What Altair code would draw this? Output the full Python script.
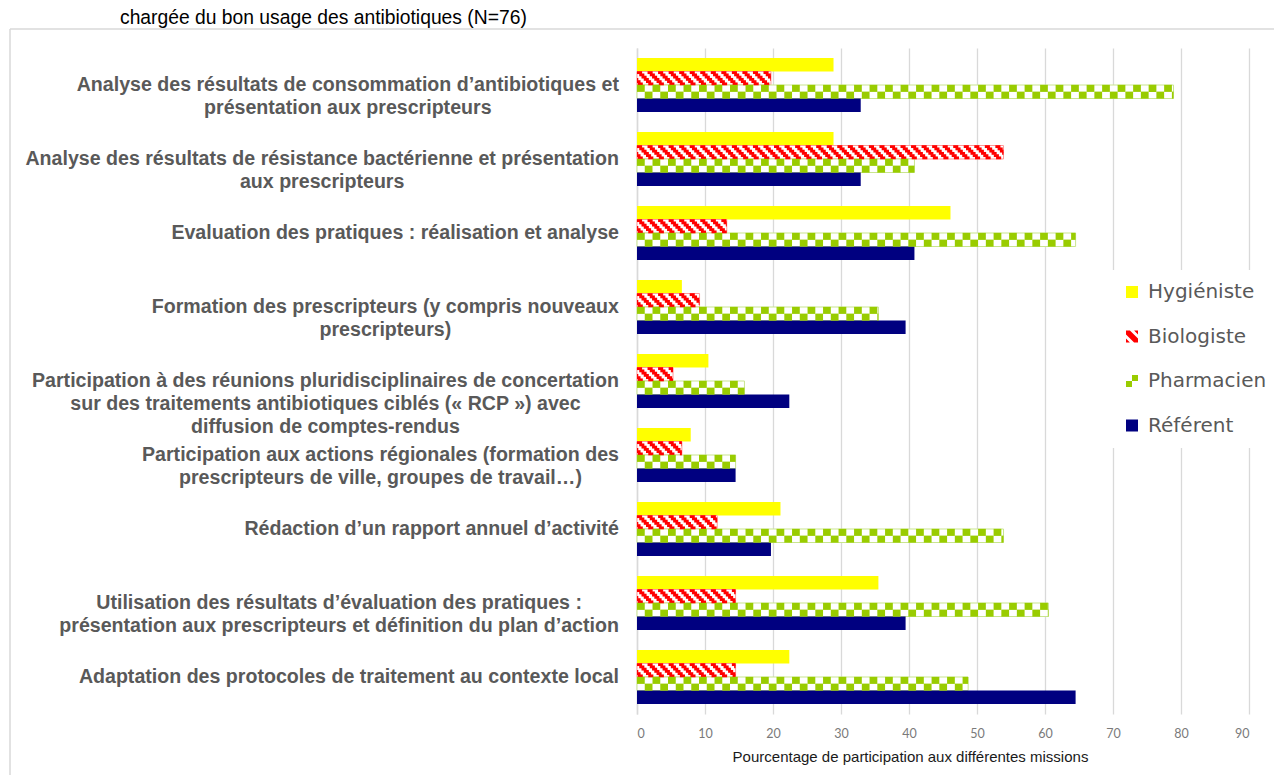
import altair as alt
import pandas as pd

# ---------------- data ----------------
categories = [
    "Analyse des résultats de consommation d’antibiotiques et\nprésentation aux prescripteurs",
    "Analyse des résultats de résistance bactérienne et présentation\naux prescripteurs",
    "Evaluation des pratiques : réalisation et analyse",
    "Formation des prescripteurs (y compris nouveaux\nprescripteurs)",
    "Participation à des réunions pluridisciplinaires de concertation\nsur des traitements antibiotiques ciblés (« RCP ») avec\ndiffusion de comptes-rendus",
    "Participation aux actions régionales (formation des\nprescripteurs de ville, groupes de travail…)",
    "Rédaction d’un rapport annuel d’activité",
    "Utilisation des résultats d’évaluation des pratiques :\nprésentation aux prescripteurs et définition du plan d’action",
    "Adaptation des protocoles de traitement au contexte local",
]
series = ["Hygiéniste", "Biologiste", "Pharmacien", "Référent"]
hygieniste = [28.9, 28.9, 46.1, 6.6, 10.5, 7.9, 21.1, 35.5, 22.4]
biologiste = [19.7, 53.9, 13.2, 9.2, 5.3, 6.6, 11.8, 14.5, 14.5]
pharmacien = [78.9, 40.8, 64.5, 35.5, 15.8, 14.5, 53.9, 60.5, 48.7]
referent = [32.9, 32.9, 40.8, 39.5, 22.4, 14.5, 19.7, 39.5, 64.5]
x_ticks = [0, 10, 20, 30, 40, 50, 60, 70, 80, 90]
title_text = "chargée du bon usage des antibiotiques (N=76)"
x_title = "Pourcentage de participation aux différentes missions"

# ---------------- layout / style ----------------
W, H = 612, 666
PXU = W / 90.0
BH = 13.5
LFS = 19.6
GRID = "#d9d9d9"
colors = ["#ffff00", "#ff0000", "#99cc00", "#000080"]

# Arial/Helvetica Bold advance widths (1/1000 em) for centering wrapped labels
HB = {" ": 278, "(": 333, ")": 333, ",": 278, "-": 333, ".": 278, ":": 333,
      "’": 278, "«": 556, "»": 556, "…": 1000,
      "A": 722, "C": 722, "E": 667, "F": 611, "P": 667, "R": 722, "U": 722,
      "a": 556, "b": 611, "c": 556, "d": 611, "e": 556, "f": 333, "g": 611,
      "h": 611, "i": 278, "j": 278, "k": 556, "l": 278, "m": 889, "n": 611,
      "o": 611, "p": 611, "q": 611, "r": 389, "s": 556, "t": 333, "u": 611,
      "v": 556, "w": 778, "x": 556, "y": 556, "z": 500, "é": 556, "à": 556,
      "è": 556}


def text_w(s, size):
    return sum(HB.get(c, 556) for c in s) * size / 1000.0


df = pd.DataFrame({
    "cat": categories * 4,
    "series": [s for s in series for _ in categories],
    "value": hygieniste + biologiste + pharmacien + referent,
})
lab_df = pd.DataFrame({
    "cat": categories,
    "labw": [max(text_w(l, LFS) for l in c.split("\n")) for c in categories],
})
one = pd.DataFrame({"k": [0]})

xsc = alt.Scale(domain=[0, 90], nice=False, zero=False)
ysc = alt.Scale(domain=categories, paddingInner=0, paddingOuter=0)
x_axis = alt.Axis(values=x_ticks, grid=True, gridColor=GRID, gridWidth=1.3,
                  domain=False, ticks=False, tickSize=0, labelFont="Lato",
                  labelFontSize=12.5, labelColor="#7a7a7a", labelPadding=13,
                  title=x_title, titleFont="Liberation Sans", titleFontSize=15,
                  titleFontWeight="normal", titleColor="#1a1a1a",
                  titlePadding=10, titleX=273)
y_axis = alt.Axis(labels=False, ticks=False, title=None, grid=False,
                  domainColor=GRID, domainWidth=1.5)
Y = alt.Y("cat:N", scale=ysc, axis=y_axis)

base = alt.Chart(df)
layers = []

# base bars
offs = [-1.5 * BH, -0.5 * BH, 0.5 * BH, 1.5 * BH]
styles = [
    dict(color=colors[0]),
    dict(fill="white", stroke="#ff9b9b", strokeWidth=1),
    dict(fill="white", stroke="#c9e58f", strokeWidth=1),
    dict(color=colors[3]),
]
for name, off, st in zip(series, offs, styles):
    layers.append(
        base.transform_filter(alt.datum.series == name)
        .mark_bar(height=BH, yOffset=off, **st)
        .encode(x=alt.X("value:Q", scale=xsc, axis=x_axis), y=Y)
    )

# diagonal stripes (Biologiste)
P_S, W_S, NR = 1.55, 0.75, 6
rh = BH / NR
for r in range(NR):
    sh = r * rh / PXU
    layers.append(
        base.transform_filter(alt.datum.series == "Biologiste")
        .transform_calculate(ks=f"sequence(0, ceil(datum.value / {P_S}) + 3)")
        .transform_flatten(["ks"])
        .transform_calculate(
            s0=f"max(0, datum.ks * {P_S} - {2 * P_S} + {sh})",
            s1=f"min(datum.value, datum.ks * {P_S} - {2 * P_S} + {sh} + {W_S})",
        )
        .transform_filter("datum.s1 > datum.s0")
        .mark_bar(color=colors[1], height=rh + 0.6, yOffset=-BH + (r + 0.5) * rh)
        .encode(x=alt.X("s0:Q", scale=xsc, axis=x_axis), x2="s1:Q", y=Y)
    )

# checkerboard (Pharmacien)
W_C = 1.14
P_C = 2 * W_C
for r in range(2):
    ph = r * W_C
    layers.append(
        base.transform_filter(alt.datum.series == "Pharmacien")
        .transform_calculate(ks=f"sequence(0, ceil(datum.value / {P_C}) + 1)")
        .transform_flatten(["ks"])
        .transform_calculate(
            s0=f"max(0, datum.ks * {P_C} + {ph})",
            s1=f"min(datum.value, datum.ks * {P_C} + {ph} + {W_C})",
        )
        .transform_filter("datum.s1 > datum.s0")
        .mark_bar(color=colors[2], height=BH / 2 + 0.3, yOffset=(r + 0.5) * BH / 2)
        .encode(x=alt.X("s0:Q", scale=xsc, axis=x_axis), x2="s1:Q", y=Y)
    )

# category labels (centered lines, block right-aligned to the axis)
layers.append(
    alt.Chart(lab_df)
    .transform_calculate(lx=f"(-18 - datum.labw / 2) / {PXU}")
    .mark_text(align="center", baseline="middle", lineBreak="\n", lineHeight=23,
               font="Liberation Sans", fontSize=LFS, fontWeight="bold",
               color="#595959")
    .encode(x=alt.X("lx:Q", scale=xsc, axis=x_axis), y=Y, text="cat:N")
)

# legend (pattern-like symbols)
BIO_PATH = ("M-1,-1L-0.35,-1L1,0.35L1,1L0.35,1L-1,-0.35Z"
            "M0.35,-1L1,-1L1,-0.35Z M-1,0.35L-1,1L-0.35,1Z")
PHARM_PATH = "M0,-1L1,-1L1,0L0,0Z M-1,0L0,0L0,1L-1,1Z"
shapes = ["square", BIO_PATH, PHARM_PATH, "square"]
leg = alt.Legend(title=None, orient="none", legendX=473, legendY=222,
                 fillColor="white", padding=12, symbolSize=144,
                 symbolStrokeWidth=0, labelFont="DejaVu Sans",
                 labelFontSize=20, labelColor="#595959", labelOffset=6,
                 rowPadding=24.5, labelLimit=300)
layers.append(
    base.transform_filter("false")
    .mark_point(filled=True, opacity=1)
    .encode(
        color=alt.Color("series:N", scale=alt.Scale(domain=series, range=colors), legend=leg),
        shape=alt.Shape("series:N", scale=alt.Scale(domain=series, range=shapes), legend=leg),
    )
)

# outer chart frame and title (kept fully visible above the frame)
layers.append(alt.Chart(one).mark_rule(color=GRID, strokeWidth=1.5)
              .encode(x=alt.value(-627), x2=alt.value(645), y=alt.value(-19)))
layers.append(alt.Chart(one).mark_rule(color=GRID, strokeWidth=1.5)
              .encode(x=alt.value(-627), y=alt.value(-19), y2=alt.value(740)))
layers.append(alt.Chart(one).mark_text(align="left", baseline="alphabetic",
                                       font="Liberation Sans", fontSize=19.3,
                                       color="#000000", text=title_text)
              .encode(x=alt.value(-517), y=alt.value(-24)))

chart = (
    alt.layer(*layers)
    .properties(width=W, height=H,
                padding={"left": 629, "top": 40, "right": 25, "bottom": 61},
                autosize=alt.AutoSizeParams(type="none"))
    .configure(background="white")
    .configure_view(stroke=None)
)

chart.save("out.html", embed_options={"renderer": "svg", "actions": False})
